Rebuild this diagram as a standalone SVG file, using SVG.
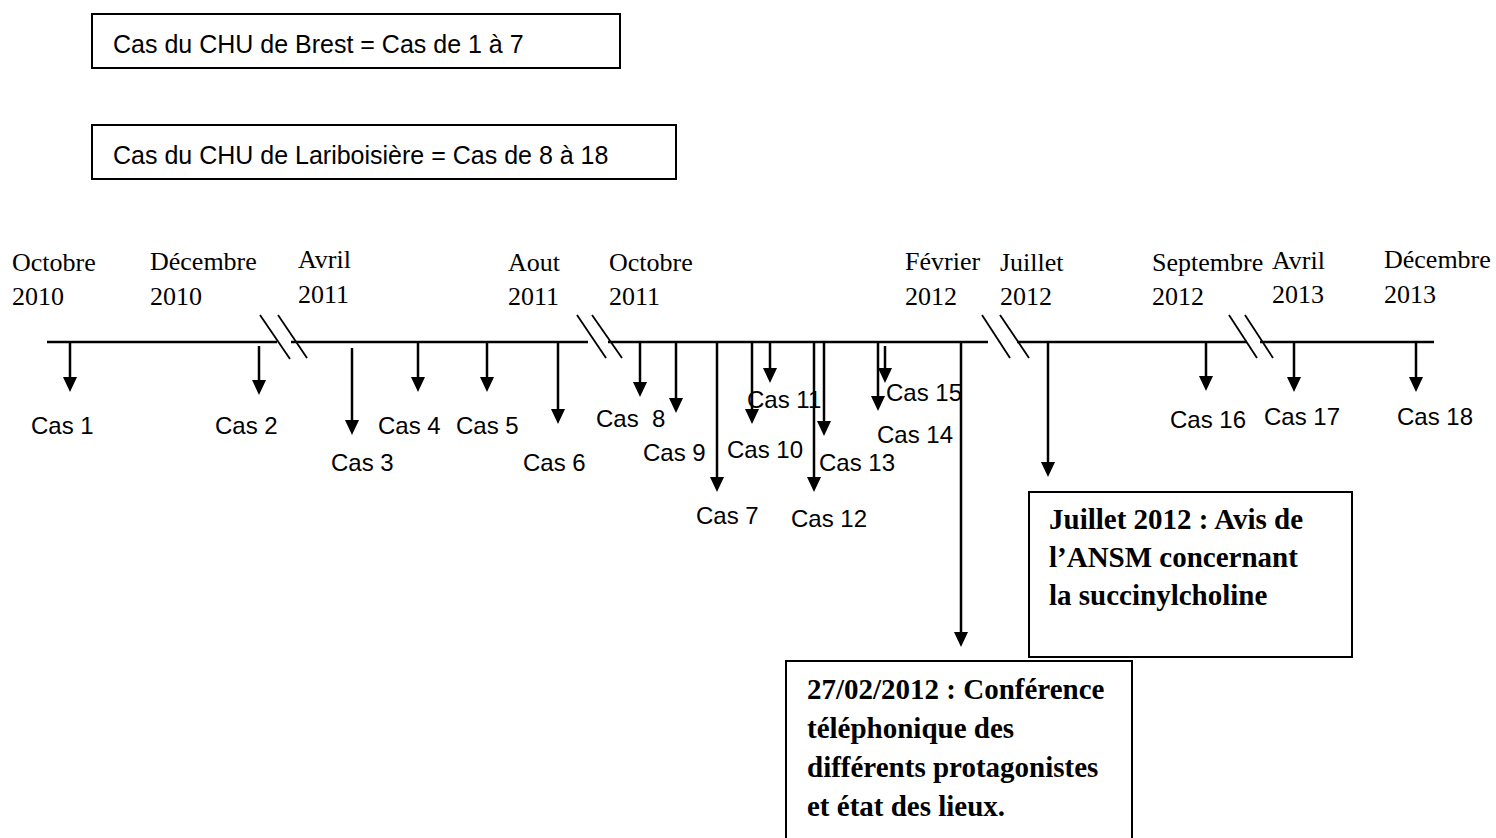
<svg xmlns="http://www.w3.org/2000/svg" width="1496" height="838" viewBox="0 0 1496 838">
<defs>
<style>
.box{fill:#fff;stroke:#000;stroke-width:2}
.cas{font-family:"Liberation Sans",Arial,sans-serif;font-size:24px;fill:#000}
.leg{font-family:"Liberation Sans",Arial,sans-serif;font-size:25px;fill:#000}
.date{font-family:"Liberation Serif","Times New Roman",serif;font-size:26px;fill:#000}
.note{font-family:"Liberation Serif","Times New Roman",serif;font-size:29px;font-weight:bold;fill:#000}
.axis{stroke:#000;stroke-width:2.5;fill:none}
.brk{stroke:#000;stroke-width:1.8;fill:none}
.arr{stroke:#000;stroke-width:2.5;fill:none;marker-end:url(#ah)}
</style>
<marker id="ah" markerUnits="userSpaceOnUse" viewBox="0 0 15 14" markerWidth="15" markerHeight="14" refX="3" refY="7" orient="auto">
<path d="M0,0 L15,7 L0,14 Z" fill="#000"/>
</marker>
</defs>
<rect width="1496" height="838" fill="#fff"/>

<g id="legend-brest">
<rect class="box" x="92" y="14" width="528" height="54"/>
<text class="leg" x="113" y="53">Cas du CHU de Brest = Cas de 1 à 7</text>
</g>
<g id="legend-lariboisiere">
<rect class="box" x="92" y="125" width="584" height="54"/>
<text class="leg" x="113" y="164">Cas du CHU de Lariboisière = Cas de 8 à 18</text>
</g>

<g id="dates">
<text class="date" x="12" y="271">Octobre</text><text class="date" x="12" y="305">2010</text>
<text class="date" x="150" y="270">Décembre</text><text class="date" x="150" y="305">2010</text>
<text class="date" x="298" y="268">Avril</text><text class="date" x="298" y="303">2011</text>
<text class="date" x="508" y="271">Aout</text><text class="date" x="508" y="305">2011</text>
<text class="date" x="609" y="271">Octobre</text><text class="date" x="609" y="305">2011</text>
<text class="date" x="905" y="270">Février</text><text class="date" x="905" y="305">2012</text>
<text class="date" x="1000" y="271">Juillet</text><text class="date" x="1000" y="305">2012</text>
<text class="date" x="1152" y="271">Septembre</text><text class="date" x="1152" y="305">2012</text>
<text class="date" x="1272" y="269">Avril</text><text class="date" x="1272" y="303">2013</text>
<text class="date" x="1384" y="268">Décembre</text><text class="date" x="1384" y="303">2013</text>
</g>

<g id="connectors">
<line class="axis" x1="47" y1="342" x2="277" y2="342"/>
<line class="axis" x1="291" y1="342" x2="588" y2="342"/>
<line class="axis" x1="608" y1="342" x2="988" y2="342"/>
<line class="axis" x1="1017" y1="342" x2="1247" y2="342"/>
<line class="axis" x1="1260" y1="342" x2="1434" y2="342"/>
<line class="brk" x1="260" y1="315" x2="290" y2="359"/>
<line class="brk" x1="278" y1="315" x2="307" y2="358"/>
<line class="brk" x1="577" y1="315" x2="606" y2="358"/>
<line class="brk" x1="592" y1="315" x2="622" y2="358"/>
<line class="brk" x1="982" y1="315" x2="1010" y2="358"/>
<line class="brk" x1="1000" y1="315" x2="1029" y2="358"/>
<line class="brk" x1="1229" y1="315" x2="1257" y2="358"/>
<line class="brk" x1="1245" y1="315" x2="1273" y2="358"/>

<line class="arr" x1="70" y1="342" x2="70" y2="380"/>
<line class="arr" x1="259" y1="346" x2="259" y2="383"/>
<line class="arr" x1="352" y1="348" x2="352" y2="423"/>
<line class="arr" x1="418" y1="342" x2="418" y2="380"/>
<line class="arr" x1="487" y1="342" x2="487" y2="380"/>
<line class="arr" x1="558" y1="342" x2="558" y2="412"/>
<line class="arr" x1="640" y1="342" x2="640" y2="385"/>
<line class="arr" x1="676" y1="342" x2="676" y2="401"/>
<line class="arr" x1="717" y1="342" x2="717" y2="480"/>
<line class="arr" x1="752" y1="342" x2="752" y2="412"/>
<line class="arr" x1="770" y1="342" x2="770" y2="371"/>
<line class="arr" x1="814" y1="342" x2="814" y2="480"/>
<line class="arr" x1="824" y1="342" x2="824" y2="424"/>
<line class="arr" x1="878" y1="342" x2="878" y2="399"/>
<line class="arr" x1="885" y1="346" x2="885" y2="371"/>
<line class="arr" x1="961" y1="342" x2="961" y2="635"/>
<line class="arr" x1="1048" y1="342" x2="1048" y2="465"/>
<line class="arr" x1="1206" y1="342" x2="1206" y2="379"/>
<line class="arr" x1="1294" y1="342" x2="1294" y2="380"/>
<line class="arr" x1="1416" y1="342" x2="1416" y2="380"/>
</g>

<g id="cases">
<text class="cas" x="31" y="434">Cas 1</text>
<text class="cas" x="215" y="434">Cas 2</text>
<text class="cas" x="331" y="471">Cas 3</text>
<text class="cas" x="378" y="434">Cas 4</text>
<text class="cas" x="456" y="434">Cas 5</text>
<text class="cas" x="523" y="471">Cas 6</text>
<text class="cas" x="596" y="427" xml:space="preserve">Cas  8</text>
<text class="cas" x="643" y="461">Cas 9</text>
<text class="cas" x="696" y="524">Cas 7</text>
<text class="cas" x="727" y="458">Cas 10</text>
<text class="cas" x="747" y="408">Cas 11</text>
<text class="cas" x="791" y="527">Cas 12</text>
<text class="cas" x="819" y="471">Cas 13</text>
<text class="cas" x="877" y="443">Cas 14</text>
<text class="cas" x="886" y="401">Cas 15</text>
<text class="cas" x="1170" y="428">Cas 16</text>
<text class="cas" x="1264" y="425">Cas 17</text>
<text class="cas" x="1397" y="425">Cas 18</text>
</g>

<g id="note-ansm">
<rect class="box" x="1029" y="492" width="323" height="165"/>
<text class="note" x="1049" y="529">Juillet 2012 : Avis de</text>
<text class="note" x="1049" y="567">l’ANSM concernant</text>
<text class="note" x="1049" y="605">la succinylcholine</text>
</g>

<g id="note-conference">
<rect class="box" x="786" y="661" width="346" height="190"/>
<text class="note" x="807" y="699">27/02/2012 : Conférence</text>
<text class="note" x="807" y="738">téléphonique des</text>
<text class="note" x="807" y="777">différents protagonistes</text>
<text class="note" x="807" y="816">et état des lieux.</text>
</g>
</svg>
